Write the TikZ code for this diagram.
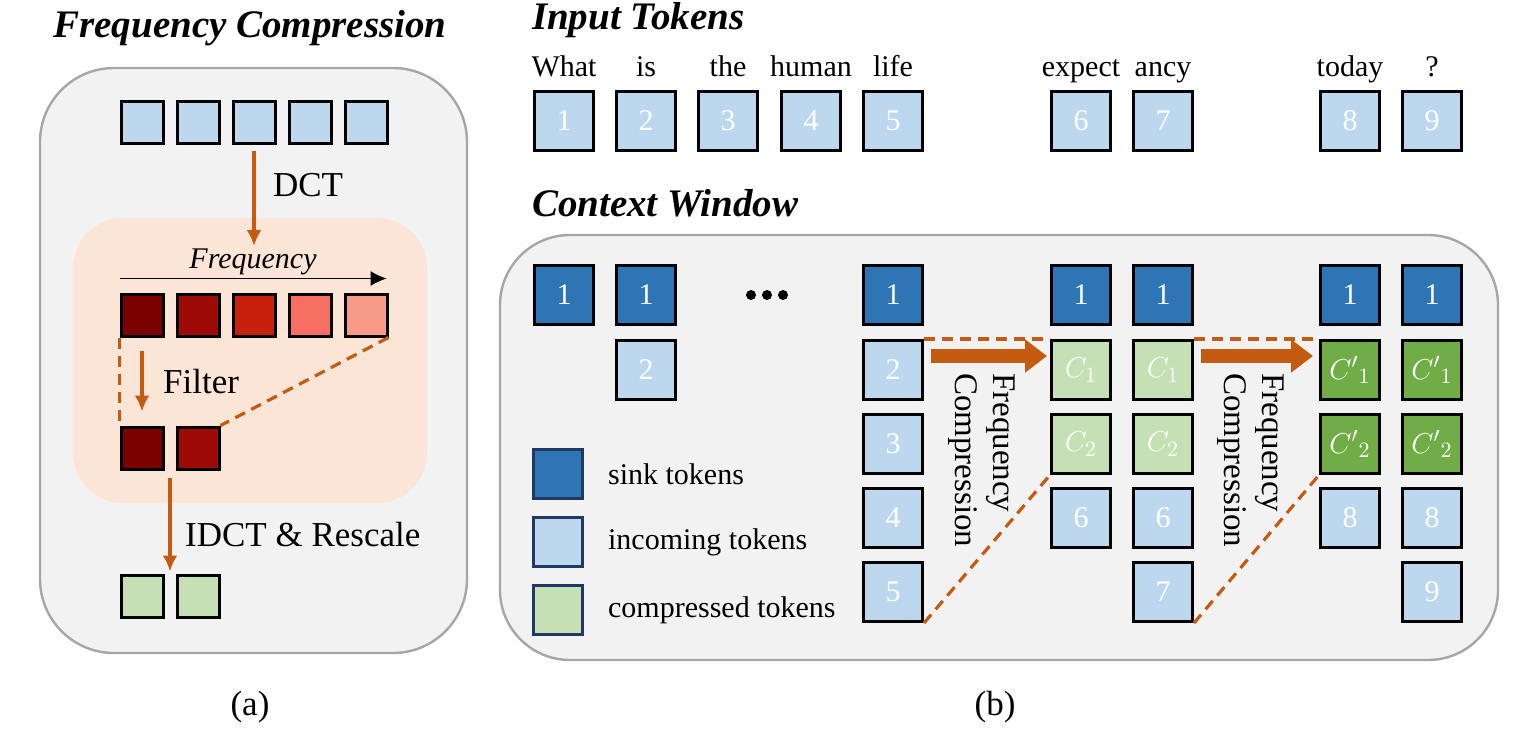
\documentclass[tikz,border=0pt]{standalone}
\usepackage{fontspec}
\setmainfont{LiberationSerif}[Extension=.ttf, UprightFont=*-Regular, BoldFont=*-Bold,
  ItalicFont=*-Italic, BoldItalicFont=*-BoldItalic]
\usepackage{xcolor}
\usetikzlibrary{calc,arrows.meta}

\definecolor{sinkblue}{HTML}{2E75B6}
\definecolor{inblue}{HTML}{BDD7EE}
\definecolor{cmplight}{HTML}{C5E0B4}
\definecolor{cmpdark}{HTML}{70AD47}
\definecolor{burnt}{HTML}{C55A11}
\definecolor{panelgray}{HTML}{F2F2F2}
\definecolor{edgegray}{HTML}{A6A6A6}
\definecolor{peach}{HTML}{FBE5D6}
\definecolor{navy}{HTML}{1F3864}
\definecolor{fq1}{HTML}{7B0000}
\definecolor{fq2}{HTML}{9E0B06}
\definecolor{fq3}{HTML}{C8200A}
\definecolor{fq4}{HTML}{F76F63}
\definecolor{fq5}{HTML}{F79A87}

\begin{document}
\begin{tikzpicture}[
    x=0.5pt, y=-0.5pt,
    >={Latex[length=8pt,width=7.5pt]},
    line width=0.45pt,
    every node/.style={font=\rmfamily\fontsize{15}{17}\selectfont},
    tok/.style={draw=black, line width=1.5pt, inner sep=0pt,
      minimum width=29.5pt, minimum height=29.5pt, text=white},
    sq/.style={draw=black, line width=1.5pt, inner sep=0pt, minimum size=21pt},
    key/.style={draw=navy, line width=1.5pt, inner sep=0pt, minimum size=24.5pt},
    flow/.style={->, draw=burnt, fill=burnt, line width=1.8pt},
    cut/.style={draw=burnt, line width=1.6pt, dash pattern=on 5.5pt off 3.5pt},
    bigflow/.style={-{Triangle[length=11pt,width=16pt]}, draw=burnt, fill=burnt, line width=7pt},
    panel/.style={draw=edgegray, fill=panelgray, line width=1.2pt},
    heading/.style={font=\rmfamily\bfseries\itshape\fontsize{19.5}{22}\selectfont},
    label/.style={font=\rmfamily\fontsize{17.5}{20}\selectfont},
    turned/.style={rotate=-90, anchor=west, align=left, font=\rmfamily\fontsize{16.5}{19}\selectfont}
  ]
    \useasboundingbox (0,0) rectangle (1534,750);

    % (a) frequency compression
    \draw[panel, rounded corners=37pt] (40,68) rectangle (467,653);
    \fill[peach, rounded corners=25pt] (73,218) rectangle (427,503);
    \node[heading] (ta) at (250,28) {Frequency Compression};

    \foreach \i/\x in {1/142,2/198,3/254,4/310,5/366}
      \node[sq, fill=inblue] (s\i) at (\x,122) {};
    \foreach \i/\x/\c in {1/142/fq1,2/198/fq2,3/254/fq3,4/310/fq4,5/366/fq5}
      \node[sq, fill=\c] (r\i) at (\x,315) {};
    \node[sq, fill=fq1] (f1) at (142,448) {};
    \node[sq, fill=fq2] (f2) at (198,448) {};
    \node[sq, fill=cmplight] (g1) at (142,596) {};
    \node[sq, fill=cmplight] (g2) at (198,596) {};

    \coordinate (dctend) at (254,246);
    \draw[flow] ([yshift=-3pt]s3.south) -- (dctend);
    \node[label, anchor=west] (dct) at (266,185) {DCT};

    \node[font=\rmfamily\itshape\fontsize{15}{17}\selectfont] (fq) at (253,262) {Frequency};
    \draw[->, line width=0.6pt] ([yshift=7pt]r1.north west) -- ([xshift=-1pt,yshift=7pt]r5.north east);

    \draw[cut] (r1.south west) -- (f1.north west);
    \draw[cut] (r5.south east) -- (f2.north east);
    \draw[flow] ([yshift=-6.5pt]r1.south) -- ([yshift=7pt]f1.north);
    \node[label, anchor=west] (flt) at (156,382) {Filter};

    \draw[flow] ($(f1.south east)!0.5!(f2.south west)+(0,7)$) -- ($(g1.north east)!0.5!(g2.north west)+(0,-2)$);
    \node[label, anchor=west] (idct) at (178,535) {IDCT \& Rescale};

    \node[label] (la) at (250,707) {(a)};

    % (b) input tokens and context window
    \node[heading, anchor=west] (tb) at (525,20) {Input Tokens};
    \foreach \i/\x/\w in {1/564/What,2/646/is,3/728/the,4/811/human,5/893/life,
        6/1081/expect,7/1163/ancy,8/1350/today,9/1432/?} {
      \node[tok, fill=inblue] (in\i) at (\x,121) {\i};
      \node[anchor=base] (wd\i) at (\x,76) {\w};
    }

    \node[heading, anchor=west] (tc) at (525,203) {Context Window};
    \draw[panel, rounded corners=35pt] (500,235) rectangle (1498,660);

    \node[tok, fill=sinkblue] (cA1) at (564,295) {1};
    \node[tok, fill=sinkblue] (cB1) at (646,295) {1};
    \node[tok, fill=inblue] (cB2) at (646,370) {2};
    \foreach \x in {751,767,783}
      \fill (\x,295) circle (5);

    \node[tok, fill=sinkblue] (cC1) at (893,295) {1};
    \foreach \r/\y in {2/370,3/444,4/518,5/592}
      \node[tok, fill=inblue] (cC\r) at (893,\y) {\r};

    \node[tok, fill=sinkblue] (cD1) at (1081,295) {1};
    \node[tok, fill=cmplight] (cD2) at (1081,370) {$C_1$};
    \node[tok, fill=cmplight] (cD3) at (1081,444) {$C_2$};
    \node[tok, fill=inblue] (cD4) at (1081,518) {6};

    \node[tok, fill=sinkblue] (cE1) at (1163,295) {1};
    \node[tok, fill=cmplight] (cE2) at (1163,370) {$C_1$};
    \node[tok, fill=cmplight] (cE3) at (1163,444) {$C_2$};
    \node[tok, fill=inblue] (cE4) at (1163,518) {6};
    \node[tok, fill=inblue] (cE5) at (1163,592) {7};

    \node[tok, fill=sinkblue] (cF1) at (1350,295) {1};
    \node[tok, fill=cmpdark] (cF2) at (1350,370) {${C'}_{1}$};
    \node[tok, fill=cmpdark] (cF3) at (1350,444) {${C'}_{2}$};
    \node[tok, fill=inblue] (cF4) at (1350,518) {8};

    \node[tok, fill=sinkblue] (cG1) at (1432,295) {1};
    \node[tok, fill=cmpdark] (cG2) at (1432,370) {${C'}_{1}$};
    \node[tok, fill=cmpdark] (cG3) at (1432,444) {${C'}_{2}$};
    \node[tok, fill=inblue] (cG4) at (1432,518) {8};
    \node[tok, fill=inblue] (cG5) at (1432,592) {9};

    \draw[cut] (cC2.north east) -- (cD2.north west);
    \draw[cut] (cC5.south east) -- (cD3.south west);
    \draw[cut] (cE2.north east) -- (cF2.north west);
    \draw[cut] (cE5.south east) -- (cF3.south west);
    \draw[bigflow] ([xshift=3.5pt,yshift=7pt]cC2.east) -- ([xshift=-1.5pt,yshift=7pt]cD2.west);
    \draw[bigflow] ([xshift=3.5pt,yshift=7pt]cE2.east) -- ([xshift=-3pt,yshift=7pt]cF2.west);
    \node[turned] (fc1) at (982,366) {Frequency\\Compression};
    \node[turned] (fc2) at (1251,366) {Frequency\\Compression};

    % legend
    \node[key, fill=sinkblue] (k1) at (558,474) {};
    \node[key, fill=inblue] (k2) at (558,542) {};
    \node[key, fill=cmplight] (k3) at (558,610) {};
    \node[anchor=west] (kl1) at (601,474) {sink tokens};
    \node[anchor=west] (kl2) at (601,542) {incoming tokens};
    \node[anchor=west] (kl3) at (601,610) {compressed tokens};

    \node[label] (lb) at (995,707) {(b)};
  \end{tikzpicture}
\end{document}
